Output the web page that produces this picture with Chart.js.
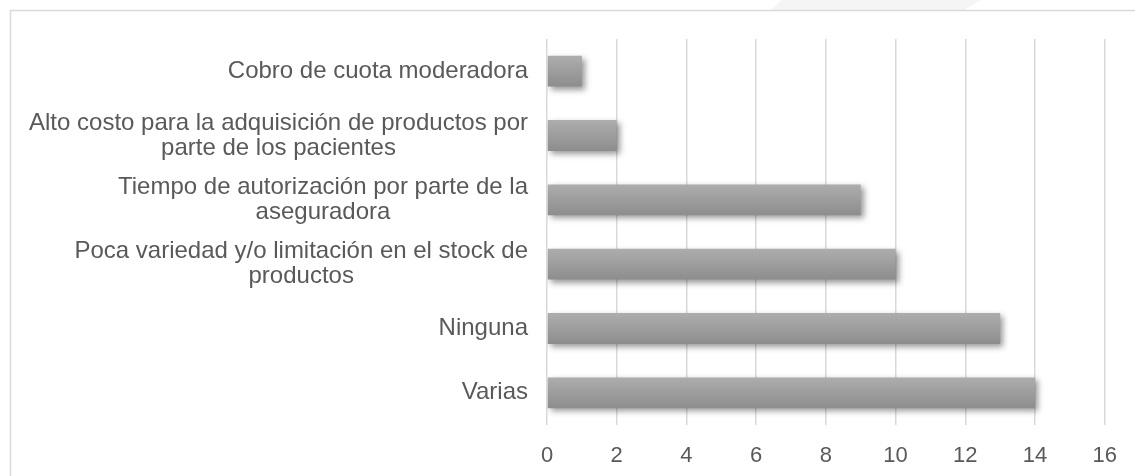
<!DOCTYPE html>
<html>
<head>
<meta charset="utf-8">
<script src="https://cdn.jsdelivr.net/npm/chart.js@4"></script>
<style>
  html, body { margin: 0; padding: 0; background: #ffffff; }
  #wrap { position: relative; width: 1135px; height: 476px; }
</style>
</head>
<body>
<div id="wrap"><canvas id="c" width="1135" height="476"></canvas></div>
<script>
// ---- data ----
const categories = [
  ["Cobro de cuota moderadora"],
  ["Alto costo para la adquisición de productos por", "parte de los pacientes"],
  ["Tiempo de autorización por parte de la", "aseguradora"],
  ["Poca variedad y/o limitación en el stock de", "productos"],
  ["Ninguna"],
  ["Varias"]
];
const values = [1, 2, 9, 10, 13, 14];
const xTicks = [0, 2, 4, 6, 8, 10, 12, 14, 16];

const FONT = "'Liberation Sans', Arial, sans-serif";
const TEXT = '#595959';

// frame + background decoration
const framePlugin = {
  id: 'frame',
  beforeDraw(chart) {
    const c = chart.ctx;
    c.save();
    c.fillStyle = '#ffffff';
    c.fillRect(0, 0, chart.width, chart.height);
    c.fillStyle = '#f5f5f5';
    c.beginPath();
    c.moveTo(782, 0); c.lineTo(981, 0); c.lineTo(964, 10); c.lineTo(771, 10);
    c.closePath(); c.fill();
    c.strokeStyle = '#d9d9d9';
    c.lineWidth = 1.5;
    c.beginPath();
    c.moveTo(10.5, chart.height); c.lineTo(10.5, 10.5); c.lineTo(chart.width, 10.5);
    c.stroke();
    c.restore();
  }
};

// bar shadow
const shadowPlugin = {
  id: 'shadow',
  beforeDatasetsDraw(chart) {
    const c = chart.ctx;
    c.save();
    c.shadowColor = 'rgba(0,0,0,0.4)';
    c.shadowBlur = 6;
    c.shadowOffsetX = 3;
    c.shadowOffsetY = 3;
  },
  afterDatasetsDraw(chart) { chart.ctx.restore(); }
};

// category labels: block right-aligned, lines centered within block
const labelPlugin = {
  id: 'catLabels',
  afterDraw(chart) {
    const c = chart.ctx;
    const yScale = chart.scales.y;
    const right = chart.chartArea.left - 19;
    const lh = 25;
    c.save();
    c.font = '24px ' + FONT;
    c.fillStyle = TEXT;
    c.textAlign = 'center';
    c.textBaseline = 'middle';
    chart.data.labels.forEach((lines, i) => {
      const yc = yScale.getPixelForValue(i);
      const w = Math.max(...lines.map(l => c.measureText(l).width));
      const xc = right - w / 2;
      lines.forEach((l, j) => {
        c.fillText(l, xc, yc + (j - (lines.length - 1) / 2) * lh);
      });
    });
    c.restore();
  }
};

new Chart(document.getElementById('c'), {
  type: 'bar',
  data: {
    labels: categories,
    datasets: [{
      data: values,
      backgroundColor(ctx) {
        const chart = ctx.chart;
        if (!chart.chartArea || !chart.scales.y) return '#9b9b9b';
        const y = chart.scales.y.getPixelForValue(ctx.dataIndex);
        const h = chart.scales.y.height / categories.length * 0.48;
        const g = chart.ctx.createLinearGradient(0, y - h / 2, 0, y + h / 2);
        g.addColorStop(0, '#adadad');
        g.addColorStop(1, '#8d8d8d');
        return g;
      },
      borderWidth: 0,
      barPercentage: 0.48,
      categoryPercentage: 1.0
    }]
  },
  options: {
    indexAxis: 'y',
    responsive: false,
    animation: false,
    events: [],
    layout: { padding: { top: 39, right: 28, bottom: 0, left: 0 } },
    plugins: { legend: { display: false }, tooltip: { enabled: false } },
    scales: {
      x: {
        min: 0, max: 16,
        afterBuildTicks(scale) { scale.ticks = xTicks.map(v => ({ value: v })); },
        afterFit(scale) { scale.height = 51; },
        ticks: { font: { family: FONT, size: 22 }, color: TEXT, padding: 18 },
        grid: { color: '#d9d9d9', lineWidth: 1.5, drawTicks: false },
        border: { display: false }
      },
      y: {
        afterFit(scale) { scale.width = 547; },
        ticks: { display: false },
        grid: { display: false, drawTicks: false },
        border: { display: false }
      }
    }
  },
  plugins: [framePlugin, shadowPlugin, labelPlugin]
});
</script>
</body>
</html>
